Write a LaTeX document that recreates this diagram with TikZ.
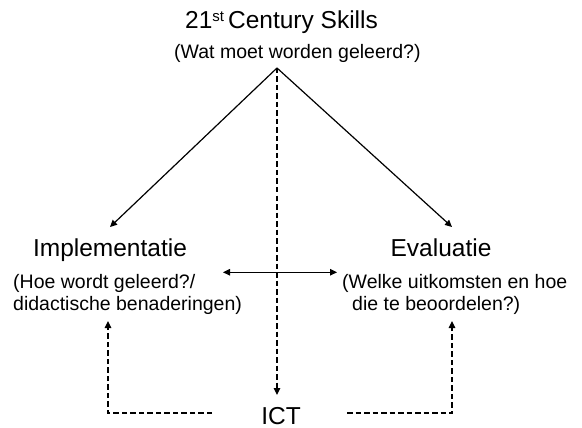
\documentclass[tikz,border=0pt]{standalone}
\usepackage{fontspec}
\setmainfont{Liberation Sans}
\usetikzlibrary{arrows.meta}
\tikzset{
  head/.style={font=\fontsize{24.5}{28}\selectfont, inner sep=0pt, anchor=base},
  sub/.style={font=\fontsize{19.5}{22}\selectfont, inner sep=0pt, anchor=base west, align=left},
  solidarrow/.style={line width=1.2pt, -{Triangle[length=7pt,width=6.5pt]}},
  dasharrow/.style={line width=1.2pt, dash pattern=on 5.5pt off 3pt, -{Triangle[length=7pt,width=6.5pt]}},
  dblarrow/.style={line width=1.2pt, {Triangle[length=7pt,width=6.5pt]}-{Triangle[length=7pt,width=6.5pt]}}
}
\begin{document}
\begin{tikzpicture}[x=1pt,y=-1pt]
\useasboundingbox[fill=white] (0,0) rectangle (582,428);
% texts
\node[head, anchor=base west] (title) at (185,29) {21{\fontsize{15}{15}\selectfont\raisebox{7pt}{st}}\hspace{4pt}Century Skills};
\node[sub] (q1) at (174,59) {(Wat moet worden geleerd?)};
\node[head] (impl) at (110,256.5) {Implementatie};
\node[sub] (implq) at (13,310) {(Hoe wordt geleerd?/\\didactische benaderingen)};
\node[head] (eval) at (441,256.5) {Evaluatie};
\node[sub] (evalq) at (342,310) {(Welke uitkomsten en hoe\\\hspace*{10pt}die te beoordelen?)};
\node[head, text depth=0pt] (ict) at (281,424.5) {ICT};
% coordinates
\coordinate (apex) at (277,68);
\coordinate (implTip) at (110,227);
\coordinate (evalTip) at (452,227);
\coordinate (ictTip) at (277,395);
\coordinate (dblL) at (223,272.3);
\coordinate (dblR) at (337,272.3);
\coordinate (lStart) at (212,413);
\coordinate (lCorner) at (108,413);
\coordinate (lTip) at (108,321);
\coordinate (rStart) at (347,413);
\coordinate (rCorner) at (452,413);
\coordinate (rTip) at (452,321);
% connectors
\draw[solidarrow] (apex) -- (implTip);
\draw[solidarrow] (apex) -- (evalTip);
\draw[dasharrow] (apex) -- (ictTip);
\draw[dblarrow] (dblL) -- (dblR);
\draw[dasharrow] (lStart) -- (lCorner) -- (lTip);
\draw[dasharrow] (rStart) -- (rCorner) -- (rTip);
\end{tikzpicture}
\end{document}
